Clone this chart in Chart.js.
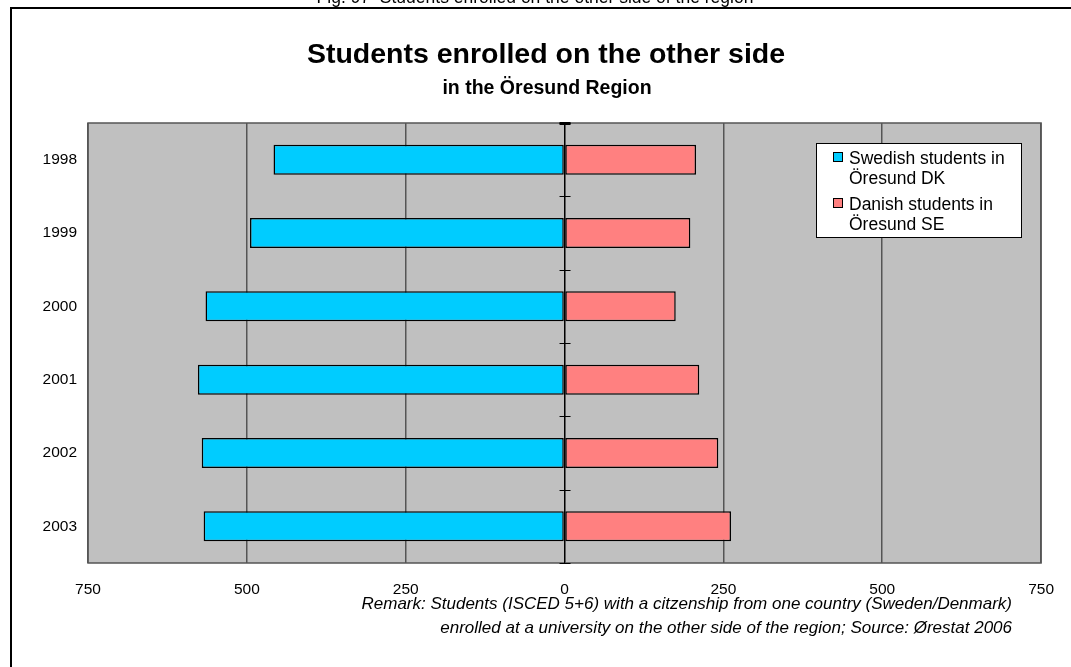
<!DOCTYPE html>
<html>
<head>
<meta charset="utf-8">
<script src="https://cdn.jsdelivr.net/npm/chart.js@4.4.0/dist/chart.umd.min.js"></script>
<style>
  html, body { margin: 0; padding: 0; background: #fff; }
  #wrap { width: 1071px; height: 667px; }
</style>
</head>
<body>
<div id="wrap"><canvas id="barChart" width="1071" height="667"></canvas></div>
<script>
// data
const years = ['1998', '1999', '2000', '2001', '2002', '2003'];
const swedishInDK = [458, 495, 565, 577, 571, 568];
const danishInSE = [207, 198, 175, 212, 242, 262];
const xTicks = [-750, -500, -250, 0, 250, 500, 750];

const seriesNames = ['Swedish students in Öresund DK', 'Danish students in Öresund SE'];
const legendLines = [['Swedish students in', 'Öresund DK'], ['Danish students in', 'Öresund SE']];
const colors = ['#00ccff', '#ff8080'];

const figTitle = 'Fig. 97  Students enrolled on the other side of the region';
const title = 'Students enrolled on the other side';
const subtitle = 'in the Öresund Region';
const remark = [
    'Remark: Students (ISCED 5+6) with a citzenship from one country (Sweden/Denmark)',
    'enrolled at a university on the other side of the region; Source: Ørestat 2006'
];

const FONT = 'Arial, "Liberation Sans", sans-serif';

const decorations = {
    id: 'decorations',
    beforeDraw(chart) {
        const ctx = chart.ctx;
        const a = chart.chartArea;
        ctx.save();
        ctx.fillStyle = '#fff';
        ctx.fillRect(0, 0, chart.width, chart.height);
        ctx.fillStyle = '#c0c0c0';
        ctx.fillRect(a.left, a.top, a.right - a.left, a.bottom - a.top);
        ctx.restore();
    },
    afterDraw(chart) {
        const ctx = chart.ctx;
        const a = chart.chartArea;
        const xs = chart.scales.x;
        const ys = chart.scales.y;
        ctx.save();

        // plot border
        ctx.strokeStyle = '#555';
        ctx.lineWidth = 1.5;
        ctx.strokeRect(a.left, a.top, a.right - a.left, a.bottom - a.top);

        // zero line with small ticks between the years
        const x0 = xs.getPixelForValue(0);
        ctx.strokeStyle = '#000';
        ctx.lineWidth = 1;
        ctx.beginPath();
        ctx.moveTo(x0, a.top);
        ctx.lineTo(x0, a.bottom);
        for (let i = 0; i <= years.length; i++) {
            const y = Math.round(ys.getPixelForValue(i - 0.5)) + 0.5;
            ctx.moveTo(x0 - 5, y);
            ctx.lineTo(x0 + 6, y);
        }
        ctx.stroke();
        ctx.fillStyle = '#000';
        ctx.fillRect(x0 - 5, a.top - 1, 11, 3);

        // outer frame
        ctx.strokeStyle = '#000';
        ctx.lineWidth = 2;
        ctx.beginPath();
        ctx.moveTo(11, chart.height);
        ctx.lineTo(11, 8);
        ctx.lineTo(chart.width, 8);
        ctx.stroke();

        // titles
        ctx.fillStyle = '#000';
        ctx.textAlign = 'center';
        ctx.textBaseline = 'alphabetic';
        ctx.font = '17.5px ' + FONT;
        ctx.fillText(figTitle, 535, 3);
        ctx.font = 'bold 28.5px ' + FONT;
        ctx.fillText(title, 546, 63);
        ctx.font = 'bold 19.5px ' + FONT;
        ctx.fillText(subtitle, 547, 94);

        // remark
        ctx.textAlign = 'right';
        ctx.font = 'italic 17px ' + FONT;
        ctx.fillText(remark[0], 1012, 609);
        ctx.fillText(remark[1], 1012, 633);

        // legend
        const lx = 816, ly = 143, lw = 205, lh = 94;
        ctx.fillStyle = '#fff';
        ctx.fillRect(lx, ly, lw, lh);
        ctx.strokeStyle = '#000';
        ctx.lineWidth = 1;
        ctx.strokeRect(lx + 0.5, ly + 0.5, lw, lh);
        ctx.textAlign = 'left';
        ctx.font = '17.5px ' + FONT;
        chart.data.datasets.forEach((ds, i) => {
            const top = ly + 9 + i * 46;
            ctx.fillStyle = ds.backgroundColor;
            ctx.fillRect(lx + 17, top, 10, 10);
            ctx.strokeStyle = '#000';
            ctx.strokeRect(lx + 17.5, top + 0.5, 9, 9);
            ctx.fillStyle = '#000';
            legendLines[i].forEach((line, j) => {
                ctx.fillText(line, lx + 33, top + 12 + j * 20);
            });
        });
        ctx.restore();
    }
};

new Chart(document.getElementById('barChart'), {
    type: 'bar',
    data: {
        labels: years,
        datasets: [
            {
                label: seriesNames[0],
                data: swedishInDK.map(v => -v),
                backgroundColor: colors[0],
                borderColor: '#000',
                borderWidth: 1.5,
                borderSkipped: false
            },
            {
                label: seriesNames[1],
                data: danishInSE,
                backgroundColor: colors[1],
                borderColor: '#000',
                borderWidth: 1.5,
                borderSkipped: false
            }
        ]
    },
    options: {
        indexAxis: 'y',
        responsive: false,
        animation: false,
        devicePixelRatio: 1,
        categoryPercentage: 1,
        barPercentage: 0.41,
        layout: { padding: { left: 10, right: 29, top: 123, bottom: 64 } },
        plugins: {
            legend: { display: false },
            title: { display: false },
            tooltip: { enabled: false }
        },
        scales: {
            x: {
                stacked: true,
                min: -750,
                max: 750,
                afterBuildTicks(scale) {
                    scale.ticks = xTicks.map(v => ({ value: v }));
                },
                afterFit(scale) { scale.height = 40; },
                ticks: {
                    callback: v => Math.abs(v),
                    color: '#000',
                    font: { family: FONT, size: 15.5 },
                    padding: 17
                },
                grid: {
                    drawTicks: false,
                    color: ctx => ctx.tick && ctx.tick.value === 0 ? '#000' : '#555',
                    lineWidth: 1.5
                },
                border: { display: false }
            },
            y: {
                stacked: true,
                afterFit(scale) { scale.width = 78; },
                ticks: {
                    color: '#000',
                    font: { family: FONT, size: 15.5 },
                    padding: 11
                },
                grid: { display: false, drawTicks: false },
                border: { display: false }
            }
        }
    },
    plugins: [decorations]
});
</script>
</body>
</html>
